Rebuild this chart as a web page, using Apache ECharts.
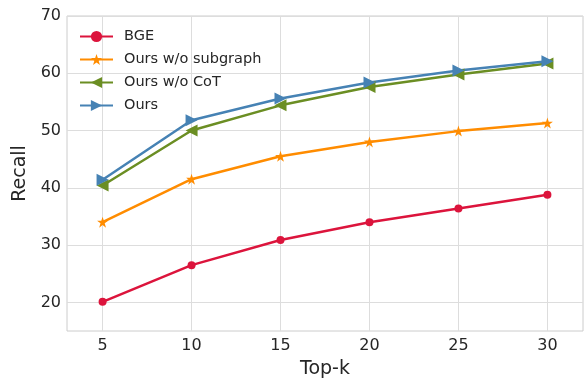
<!DOCTYPE html>
<html><head><meta charset="utf-8">
<script src="https://cdn.jsdelivr.net/npm/echarts@6/dist/echarts.min.js"></script>
<style>html,body{margin:0;padding:0;background:#fff}#c{width:584px;height:381px}</style>
</head><body><div id="c"></div>
<script>
const topK = [5, 10, 15, 20, 25, 30];
const bge = [20.1, 26.5, 30.9, 34.0, 36.4, 38.8];
const woSubgraph = [34.0, 41.5, 45.5, 48.0, 49.9, 51.3];
const woCoT = [40.4, 50.0, 54.4, 57.6, 59.8, 61.7];
const ours = [41.4, 51.8, 55.6, 58.4, 60.5, 62.1];
const xTicks = [5, 10, 15, 20, 25, 30];
const yTicks = [20, 30, 40, 50, 60, 70];

const star = 'path://M50,0 L61.8,35.5 L100,35.5 L69.1,57.4 L80.9,95 L50,72 L19.1,95 L30.9,57.4 L0,35.5 L38.2,35.5 Z';
const font = 'DejaVu Sans';
function mk(name, data, color, symbol, rot, size) {
  return {
    name, type: 'line', data: topK.map((k, i) => [k, data[i]]),
    color, symbol, symbolRotate: rot, symbolSize: size,
    lineStyle: { width: 2.5, color }, itemStyle: { color },
    showSymbol: true, animation: false, z: 3
  };
}
const chart = echarts.init(document.getElementById('c'), null, { renderer: 'canvas' });
chart.setOption({
  animation: false,
  backgroundColor: '#fff',
  grid: { left: 67, right: 1, top: 16, bottom: 50, show: true, borderColor: '#cccccc', borderWidth: 1,
          containLabel: false, outerBoundsMode: 'none' },
  legend: {
    orient: 'vertical', left: 74, top: 24, itemWidth: 33, itemHeight: 14, itemGap: 8,
    textStyle: { fontFamily: font, fontSize: 14.5, color: '#262626', padding: [0, 0, 0, 6] },
    data: ['BGE', 'Ours w/o subgraph', 'Ours w/o CoT', 'Ours']
  },
  xAxis: {
    type: 'value', min: 3, max: 32,
    name: 'Top-k', nameLocation: 'middle', nameGap: 29,
    nameTextStyle: { fontFamily: font, fontSize: 19, color: '#262626' },
    axisLine: { show: false }, axisTick: { show: false, customValues: xTicks },
    axisLabel: { customValues: xTicks, fontFamily: font, fontSize: 16, color: '#262626', margin: 7 },
    splitLine: { show: true, lineStyle: { color: '#dddddd', width: 1 } }
  },
  yAxis: {
    type: 'value', min: 15, max: 70,
    name: 'Recall', nameLocation: 'middle', nameGap: 37, nameRotate: 90,
    nameTextStyle: { fontFamily: font, fontSize: 19, color: '#262626' },
    axisLine: { show: false }, axisTick: { show: false, customValues: yTicks },
    axisLabel: { customValues: yTicks, fontFamily: font, fontSize: 16, color: '#262626', margin: 6 },
    splitLine: { show: true, lineStyle: { color: '#dddddd', width: 1 } }
  },
  series: [
    mk('BGE', bge, '#DC143C', 'circle', 0, 8),
    mk('Ours w/o subgraph', woSubgraph, '#FF8C00', star, 0, 11),
    mk('Ours w/o CoT', woCoT, '#6B8E23', 'triangle', 90, 12),
    mk('Ours', ours, '#4682B4', 'triangle', -90, 12)
  ]
});
</script></body></html>
